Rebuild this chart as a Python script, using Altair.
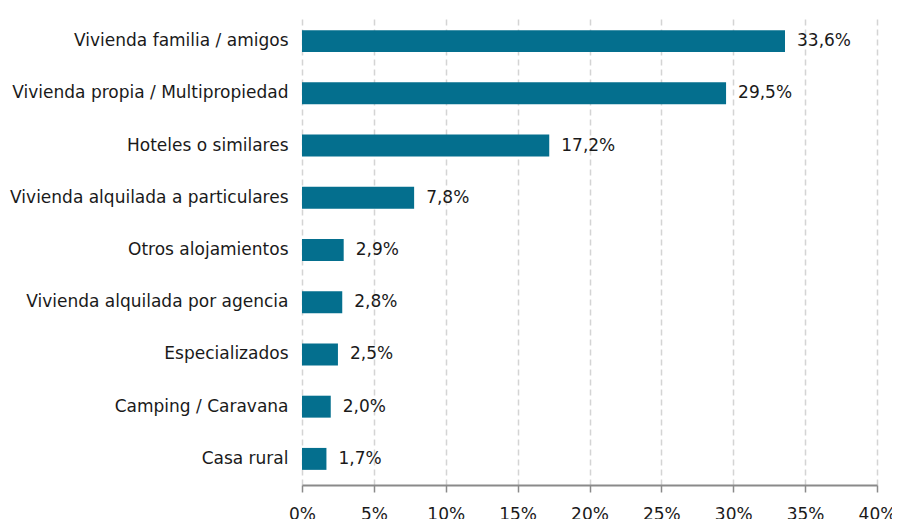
import altair as alt
import pandas as pd

categories = [
    "Vivienda familia / amigos",
    "Vivienda propia / Multipropiedad",
    "Hoteles o similares",
    "Vivienda alquilada a particulares",
    "Otros alojamientos",
    "Vivienda alquilada por agencia",
    "Especializados",
    "Camping / Caravana",
    "Casa rural",
]
values = [33.6, 29.5, 17.2, 7.8, 2.9, 2.8, 2.5, 2.0, 1.7]
value_labels = ["33,6%", "29,5%", "17,2%", "7,8%", "2,9%", "2,8%", "2,5%", "2,0%", "1,7%"]
x_ticks = [0, 5, 10, 15, 20, 25, 30, 35, 40]

df = pd.DataFrame({"cat": categories, "val": values, "lab": value_labels})

FONT = "DejaVu Sans"
FS = 17

base = alt.Chart(df).encode(
    y=alt.Y(
        "cat:N",
        sort=categories,
        title=None,
        scale=alt.Scale(paddingInner=0.58, paddingOuter=0.29),
        axis=alt.Axis(
            domain=False,
            ticks=False,
            labelPadding=14,
            labelFontSize=FS,
            labelFont=FONT,
            labelColor="#1a1a1a",
            labelLimit=400,
        ),
    ),
    x=alt.X(
        "val:Q",
        title=None,
        scale=alt.Scale(domain=[0, 40], nice=False),
        axis=alt.Axis(
            values=x_ticks,
            labelExpr="datum.value + '%'",
            labelFlush=False,
            grid=True,
            gridDash=[6, 4],
            gridColor="#d4d4d4",
            gridWidth=1.5,
            domainColor="#8a8a8a",
            domainWidth=2,
            tickColor="#8a8a8a",
            tickWidth=1.5,
            tickSize=7,
            labelPadding=14,
            labelFontSize=FS,
            labelFont=FONT,
            labelColor="#1a1a1a",
        ),
    ),
)

bars = base.mark_bar(color="#046f8e")
text = base.mark_text(
    align="left", baseline="middle", dx=12, fontSize=FS, font=FONT, color="#1a1a1a"
).encode(text="lab:N")

chart = (
    (bars + text)
    .properties(
        width=575,
        height=470,
        background="white",
        autosize=alt.AutoSizeParams(type="none"),
        padding={"left": 294, "top": 7, "right": 15, "bottom": 40},
    )
    .configure_view(strokeWidth=0)
)

chart.save("out.html", embed_options={"renderer": "svg", "actions": False})
